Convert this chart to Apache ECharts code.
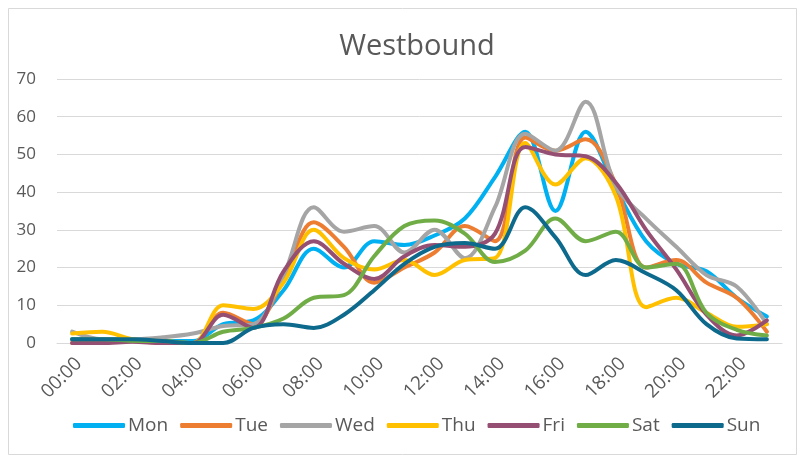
<!DOCTYPE html>
<html>
<head>
<meta charset="utf-8">
<title>Westbound</title>
<script src="https://cdn.jsdelivr.net/npm/echarts@6/dist/echarts.min.js"></script>
<style>
    html, body {margin: 0; padding: 0; background: #ffffff;}
    #chart {width: 799px; height: 458px;}
</style>
</head>
<body>
<div id="chart"></div>
<script>
    const hours = ['00:00', '01:00', '02:00', '03:00', '04:00', '05:00', '06:00', '07:00', '08:00', '09:00', '10:00', '11:00',
        '12:00', '13:00', '14:00', '15:00', '16:00', '17:00', '18:00', '19:00', '20:00', '21:00', '22:00', '23:00'];
    const yTicks = [0, 10, 20, 30, 40, 50, 60, 70];

    const mon = [1, 1, 1, 0.5, 0.5, 5, 6, 14, 25, 20, 27, 26, 28.5, 33, 44, 56, 35, 56, 41, 27, 21, 19, 12, 7];
    const tue = [0, 0.5, 0.5, 0, 0, 8, 5, 17, 32, 25.5, 16, 20, 24, 31, 27, 54.5, 51, 54, 42, 20, 22, 16, 12, 3];
    const wed = [3, 1, 1, 1.5, 2.5, 4.5, 5, 18, 36, 29.5, 31, 24, 30, 22.5, 36, 55.5, 51, 64, 41.5, 33, 25.5, 18, 15, 5];
    const thu = [2.5, 3, 1, 0.5, 0, 10, 9, 16, 30, 22.5, 19.5, 22, 18, 22, 22.5, 53, 42, 49, 39, 9.5, 12, 8, 4.3, 5];
    const fri = [0, 0, 0.3, 0, 0, 7.5, 4, 19, 27, 21, 17, 23, 26, 25.5, 29, 52, 50, 49.5, 42.5, 30, 19.5, 7.5, 2, 6];
    const sat = [1, 1, 0.6, 0.5, 0, 3, 4, 6.5, 12, 12.7, 23, 31, 32.5, 29, 21.5, 24.5, 33, 27, 29.5, 20, 21, 8, 3.5, 2];
    const sun = [1, 1, 1, 0.5, 0, 0, 4, 5, 4, 7.5, 14, 21, 25.5, 26.5, 25, 36, 28, 18, 22, 18.5, 14, 5, 1.2, 1];

    const days = ['Mon', 'Tue', 'Wed', 'Thu', 'Fri', 'Sat', 'Sun'];
    const dayValues = [mon, tue, wed, thu, fri, sat, sun];

    const FONT = '"Open Sans", sans-serif';
    const TEXT_COLOR = '#595959';
    const GRID_COLOR = '#d9d9d9';

    let _option = {
        color: ['#00b0f0', '#ed7d31', '#a5a5a5', '#ffc000', '#954f72', '#70ad47', '#0e6a8c'],
        backgroundColor: '#ffffff',
        animation: false,
        title: {
            text: 'Westbound',
            left: 412,
            top: 27,
            textAlign: 'center',
            textStyle: {
                color: TEXT_COLOR,
                fontFamily: FONT,
                fontWeight: 'normal',
                fontSize: 29
            }
        },
        // frame round the whole chart
        graphic: [{
            type: 'rect',
            shape: {x: 8.5, y: 8.5, width: 788, height: 446},
            style: {fill: null, stroke: GRID_COLOR, lineWidth: 1},
            silent: true
        }],
        legend: {
            top: 411,
            left: 68,
            itemWidth: 52,
            itemHeight: 5,
            itemGap: 12,
            icon: 'roundRect',
            data: days,
            textStyle: {
                color: TEXT_COLOR,
                fontFamily: FONT,
                fontSize: 19,
                padding: [0, 0, 0, -2]
            }
        },
        grid: {
            left: 57,
            right: 17,
            top: 79,
            bottom: 115,
            containLabel: false
        },
        xAxis: {
            type: 'category',
            data: hours,
            boundaryGap: true,
            axisLine: {show: true, lineStyle: {color: GRID_COLOR, width: 1}},
            axisTick: {show: false},
            axisLabel: {
                interval: 1,
                rotate: 45,
                margin: 11,
                verticalAlign: 'top',
                color: TEXT_COLOR,
                fontFamily: FONT,
                fontSize: 19
            }
        },
        yAxis: {
            type: 'value',
            min: yTicks[0],
            max: yTicks[yTicks.length - 1],
            interval: 10,
            axisLine: {show: false},
            axisTick: {show: false},
            splitLine: {lineStyle: {color: GRID_COLOR, width: 1}},
            axisLabel: {
                margin: 21,
                color: TEXT_COLOR,
                fontFamily: FONT,
                fontSize: 17
            }
        },
        series: days.map(function (name, i) {
            return {
                name: name,
                type: 'line',
                data: dayValues[i],
                smooth: 0.35,
                symbol: 'none',
                lineStyle: {width: 4, cap: 'round', join: 'round'}
            };
        })
    };

    const myChart = echarts.init(document.getElementById('chart'), null, {renderer: 'canvas'});
    myChart.setOption(_option);
</script>
</body>
</html>
